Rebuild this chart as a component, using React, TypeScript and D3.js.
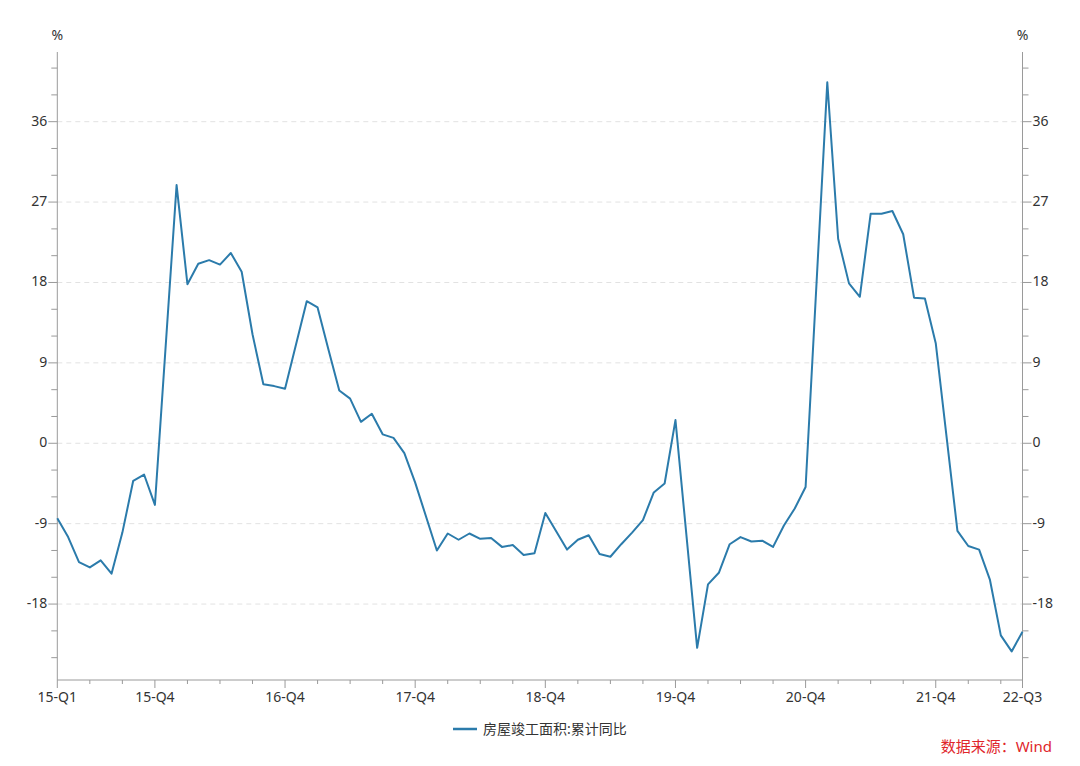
import React from 'react';
import * as d3 from 'd3';

// Monthly categories from 2015-03 to 2022-08 (Jan is never published, so it is null)
const startYear = 2015;
const startMonth = 3;
const monthCount = 90;

// 房屋竣工面积:累计同比 (%), read month by month; null = January
const values2015 = [-8.4, -10.5, -13.3, -13.9, -13.1, -14.6, -10.0, -4.2, -3.5, -6.9];
const values2016 = [null, 28.9, 17.8, 20.1, 20.5, 20.0, 21.3, 19.2, 12.2, 6.6, 6.4, 6.1];
const values2017 = [null, 15.9, 15.2, 10.5, 5.9, 5.0, 2.4, 3.3, 1.0, 0.6, -1.1, -4.4];
const values2018 = [null, -12.0, -10.1, -10.8, -10.1, -10.7, -10.6, -11.6, -11.4, -12.5, -12.3, -7.8];
const values2019 = [null, -11.9, -10.8, -10.3, -12.4, -12.7, -11.3, -10.0, -8.6, -5.5, -4.5, 2.6];
const values2020 = [null, -22.9, -15.8, -14.5, -11.3, -10.5, -11.0, -10.9, -11.6, -9.2, -7.3, -4.9];
const values2021 = [null, 40.4, 22.9, 17.9, 16.4, 25.7, 25.7, 26.0, 23.4, 16.3, 16.2, 11.2];
const values2022 = [null, -9.8, -11.5, -11.9, -15.3, -21.5, -23.3, -21.1];

const seriesValues: (number | null)[] = [
  ...values2015, ...values2016, ...values2017, ...values2018,
  ...values2019, ...values2020, ...values2021, ...values2022,
];

const categories = d3.range(monthCount).map(i => {
  const m = startMonth - 1 + i;
  const y = startYear + Math.floor(m / 12);
  return `${y}-${String((m % 12) + 1).padStart(2, '0')}`;
});

// labelled x positions (category index -> label)
const xLabels: [number, string][] = [
  [0, '15-Q1'], [9, '15-Q4'], [21, '16-Q4'], [33, '17-Q4'], [45, '18-Q4'],
  [57, '19-Q4'], [69, '20-Q4'], [81, '21-Q4'], [89, '22-Q3'],
];
const yMajorTicks = [-18, -9, 0, 9, 18, 27, 36];
const yMinorTicks = [-24, -21, -15, -12, -6, -3, 3, 6, 12, 15, 21, 24, 30, 33, 39, 42];

const seriesName = '房屋竣工面积:累计同比';
const sourceText = '数据来源：Wind';

const W = 1080;
const H = 766;
const left = 57.3;
const right = 1022.5;
const top = 52;
const bottom = 680;

const lineColor = '#2b7bab';
const axisColor = '#9a9a9a';
const textColor = '#333333';
const font = '"Noto Sans", "Noto Sans CJK SC", sans-serif';

export default function App() {
  const x = d3.scalePoint<number>()
    .domain(d3.range(monthCount))
    .range([left, right]);

  const y = d3.scaleLinear()
    .domain([-26.5, 43.8])
    .range([bottom, top]);

  const points = seriesValues
    .map((v, i) => ({ i, v, cat: categories[i] }))
    .filter(d => d.v !== null) as { i: number; v: number; cat: string }[];

  const linePath = d3.line<{ i: number; v: number }>()
    .x(d => x(d.i) as number)
    .y(d => y(d.v))(points) || '';

  const xTickIdx = d3.range(0, monthCount, 3);
  const labelled = new Set(xLabels.map(d => d[0]));

  return (
    <svg width={W} height={H} style={{ position: 'absolute', left: 0, top: 0, background: '#fff' }}
      fontFamily={font}>
      {/* gridlines */}
      {yMajorTicks.map(t => (
        <line key={`g${t}`} x1={left} x2={right} y1={y(t)} y2={y(t)}
          stroke="#e2e2e2" strokeDasharray="5,4" strokeWidth={1} />
      ))}

      {/* left axis */}
      <line x1={left} x2={left} y1={top} y2={bottom} stroke={axisColor} />
      {yMinorTicks.map(t => (
        <line key={`lm${t}`} x1={left - 6} x2={left} y1={y(t)} y2={y(t)} stroke={axisColor} />
      ))}
      {yMajorTicks.map(t => (
        <g key={`l${t}`}>
          <line x1={left - 9} x2={left} y1={y(t)} y2={y(t)} stroke={axisColor} />
          <text x={left - 10} y={y(t) - 1} dy="0.35em" textAnchor="end" fontSize={14} fill={textColor}>{t}</text>
        </g>
      ))}
      <text x={left} y={40} textAnchor="middle" fontSize={14} fill={textColor}>%</text>

      {/* right axis */}
      <line x1={right} x2={right} y1={top} y2={bottom} stroke={axisColor} />
      {yMinorTicks.map(t => (
        <line key={`rm${t}`} x1={right} x2={right + 6} y1={y(t)} y2={y(t)} stroke={axisColor} />
      ))}
      {yMajorTicks.map(t => (
        <g key={`r${t}`}>
          <line x1={right} x2={right + 9} y1={y(t)} y2={y(t)} stroke={axisColor} />
          <text x={right + 10} y={y(t) - 1} dy="0.35em" textAnchor="start" fontSize={14} fill={textColor}>{t}</text>
        </g>
      ))}
      <text x={right} y={40} textAnchor="middle" fontSize={14} fill={textColor}>%</text>

      {/* bottom axis */}
      <line x1={left} x2={right} y1={bottom} y2={bottom} stroke={axisColor} />
      {xTickIdx.filter(i => !labelled.has(i)).map(i => (
        <line key={`xm${i}`} x1={x(i)} x2={x(i)} y1={bottom} y2={bottom + 4} stroke={axisColor} />
      ))}
      {xLabels.map(([i, label]) => (
        <g key={`x${i}`}>
          <line x1={x(i)} x2={x(i)} y1={bottom} y2={bottom + 8} stroke={axisColor} />
          <text x={x(i)} y={bottom + 17} dy="0.35em" textAnchor="middle" fontSize={14} fill={textColor}>{label}</text>
        </g>
      ))}

      {/* series */}
      <path d={linePath} fill="none" stroke={lineColor} strokeWidth={2} strokeLinejoin="round" />

      {/* legend */}
      <line x1={453} x2={477} y1={729} y2={729} stroke={lineColor} strokeWidth={2.5} />
      <text x={483} y={729} dy="0.35em" fontSize={14} fill={textColor}>{seriesName}</text>

      {/* source */}
      <text x={1052} y={747} dy="0.35em" textAnchor="end" fontSize={15} fill="#e0262b">{sourceText}</text>
    </svg>
  );
}
